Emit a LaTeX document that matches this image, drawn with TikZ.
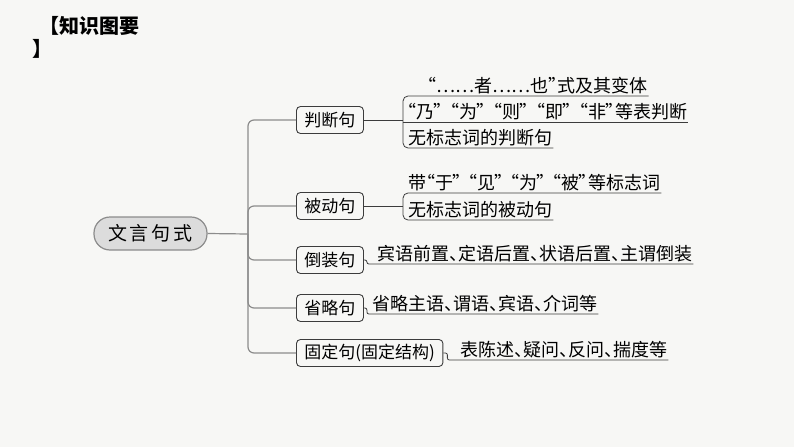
\documentclass[tikz,border=0pt]{standalone}
\usepackage{fontspec}
\setmainfont{Noto Sans CJK SC}
\newfontfamily\leaffont[RawFeature=+palt]{Noto Sans CJK SC}
\definecolor{paper}{HTML}{F7F7F5}
\definecolor{linegray}{HTML}{8C8C8C}
\definecolor{boxgray}{HTML}{3C3C3C}
\definecolor{rootfill}{HTML}{DCDCDC}
\begin{document}
\begin{tikzpicture}[
            x=1pt, y=-1pt,
            branch/.style={draw=boxgray, rounded corners=4pt, line width=0.9pt, inner xsep=8pt, minimum height=27pt, font=\fontsize{17}{20}\selectfont},
            leaf/.style={anchor=south west, inner xsep=1pt, inner ysep=2pt, font=\leaffont\fontsize{18}{21}\selectfont},
            conn/.style={draw=linegray, line width=1.2pt, rounded corners=6pt},
            uline/.style={draw=boxgray, line width=0.8pt, rounded corners=5pt}
        ]
        % --- Background ---
        \fill[paper] (0,0) rectangle (794,447);

        % --- Title ---
        \node[anchor=north west, align=left, inner sep=0pt, font=\bfseries\fontsize{20}{23}\selectfont] (title) at (32,16) {\hspace{7pt}【知识图要\\】};

        % --- Root and branches ---
        \node[draw=linegray, fill=rootfill, line width=1.2pt, rounded corners=16pt, minimum width=113pt, minimum height=33pt, font=\fontsize{19}{22}\selectfont] (root) at (150.5,233.5) {文\kern3pt 言\kern3pt 句\kern3pt 式};
        \node[branch, anchor=west] (jud) at (296,120) {判断句};
        \node[branch, anchor=west] (pas) at (296,206) {被动句};
        \node[branch, anchor=west] (inv) at (296,260) {倒装句};
        \node[branch, anchor=west] (omi) at (296,308) {省略句};
        \node[branch, anchor=west] (fix) at (296,353) {固定句(固定结构)};

        \coordinate (hub) at (248,234);
        \draw[conn] (root.east) -- (hub);
        \foreach \b in {jud,pas,inv,omi,fix}
            \draw[conn] (hub) |- (\b.west);

        % --- Leaves of 判断句 ---
        \coordinate (jj) at (403,120);
        \node[leaf] (j1) at (426,96) {“……者……也”式及其变体};
        \node[leaf] (j2) at (406,122) {“乃”\kern7pt“为”\kern7pt“则”\kern7pt“即”\kern7pt“非”等表判断};
        \node[leaf] (j3) at (407,148) {无标志词的判断句};
        \draw[uline] (jud.east) -- (jj);
        \draw[uline] (j1.south east) -- (j1.south east -| jj) -- (j3.south west -| jj) -- (j3.south east);
        \draw[uline] (j2.south west -| jj) -- (j2.south east);

        % --- Leaves of 被动句 ---
        \coordinate (pj) at (403,206);
        \node[leaf] (p1) at (407,193) {带“于”\kern6pt“见”\kern6pt“为”\kern6pt“被”等标志词};
        \node[leaf] (p2) at (407,220) {无标志词的被动句};
        \draw[uline] (pas.east) -- (pj);
        \draw[uline] (p1.south east) -- (p1.south east -| pj) -- (p2.south west -| pj) -- (p2.south east);

        % --- Single leaves ---
        \node[leaf] (d1) at (376,264) {宾语前置、定语后置、状语后置、主谓倒装};
        \node[leaf] (s1) at (371,314) {省略主语、谓语、宾语、介词等};
        \node[leaf] (g1) at (459,360) {表陈述、疑问、反问、揣度等};
        \draw[uline, rounded corners=2pt] (inv.east) -- ++(3,0) |- (d1.south east);
        \draw[uline, rounded corners=2pt] (omi.east) -- ++(3,0) |- (s1.south east);
        \draw[uline, rounded corners=2pt] (fix.east) -- ++(4,0) |- (g1.south east);
\end{tikzpicture}
\end{document}
